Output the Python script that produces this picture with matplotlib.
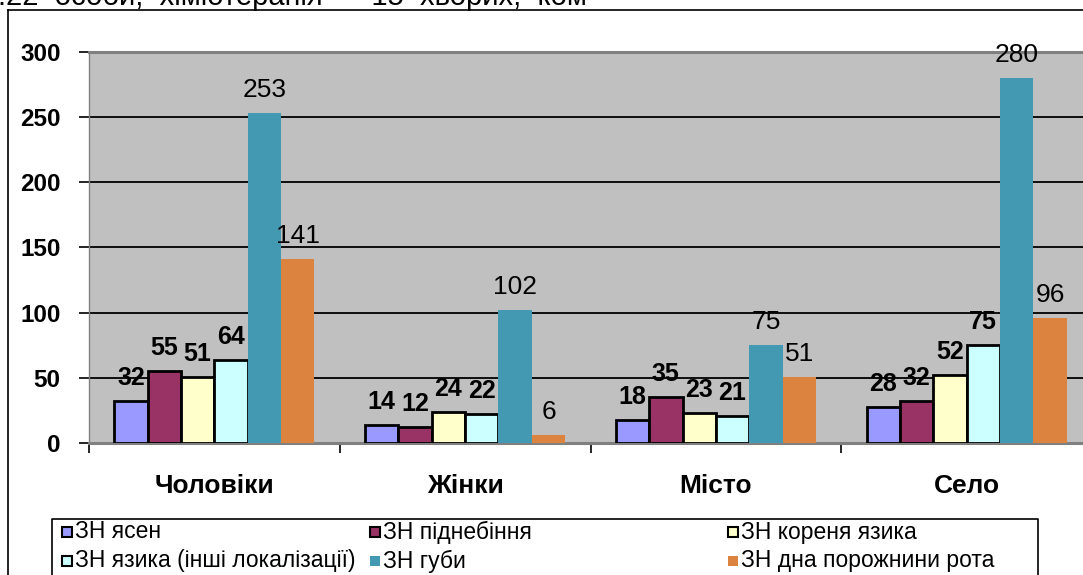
import matplotlib.pyplot as plt
import numpy as np
from matplotlib.lines import Line2D
from matplotlib.patches import Rectangle

plt.rcParams['font.family'] = ['Liberation Sans', 'DejaVu Sans']

# data
categories = ['Чоловіки', 'Жінки', 'Місто', 'Село']
series_names = ['ЗН ясен', 'ЗН піднебіння', 'ЗН кореня язика',
                'ЗН язика (інші локалізації)', 'ЗН губи', 'ЗН дна порожнини рота']
gums = [32, 14, 18, 28]
palate = [55, 12, 35, 32]
tongue_root = [51, 24, 23, 52]
tongue_other = [64, 22, 21, 75]
lip = [253, 102, 75, 280]
mouth_floor = [141, 6, 51, 96]
series_values = [gums, palate, tongue_root, tongue_other, lip, mouth_floor]
y_ticks = [0, 50, 100, 150, 200, 250, 300]

colors = ['#9999FF', '#993366', '#FFFFCC', '#CCFFFF', '#4299B1', '#DC843F']
edged = [True, True, True, True, False, False]
bold_labels = [True, True, True, True, False, False]

W, H = 1083, 575
fig = plt.figure(figsize=(W / 100, H / 100), dpi=100)

# plot area
ax = fig.add_axes([89 / W, 1 - 443 / H, (1092 - 89) / W, 391 / H])
ax.set_facecolor('#C0C0C0')

x = np.arange(len(categories))
bw = 0.133
for i, vals in enumerate(series_values):
    pos = x + (i - 2.5) * bw
    ax.bar(pos, vals, width=bw, color=colors[i],
           edgecolor='black' if edged[i] else colors[i],
           linewidth=2.0 if edged[i] else 0, zorder=3)
    for px, v in zip(pos, vals):
        ax.annotate(str(v), (px, v), xytext=(0, 11.5), textcoords='offset points',
                    ha='center', va='baseline',
                    fontsize=18 if bold_labels[i] else 19,
                    fontweight='bold' if bold_labels[i] else 'normal', zorder=4)

ax.set_xlim(-0.5, 3.5)
ax.set_ylim(0, 300)
ax.set_yticks(y_ticks)
ax.set_yticklabels([str(t) for t in y_ticks], fontsize=17.5, fontweight='bold')
ax.yaxis.grid(True, color='black', linewidth=1.3)
ax.set_axisbelow(True)

ax.set_xticks(x)
ax.set_xticklabels(categories, fontsize=19, fontweight='bold')
ax.set_xticks([-0.5, 0.5, 1.5, 2.5], minor=True)
ax.tick_params(axis='x', which='major', length=0, pad=22)
ax.tick_params(axis='x', which='minor', length=7, width=1.2, color='black')
ax.tick_params(axis='y', length=7, width=1.2, color='black', pad=13.5)

for side in ['top', 'bottom']:
    ax.spines[side].set_color('#808080')
    ax.spines[side].set_linewidth(2.2)
ax.spines['left'].set_color('#808080')
ax.spines['left'].set_linewidth(1.0)
ax.spines['right'].set_visible(False)

# chart frame (cut off at right and bottom)
fig.add_artist(Line2D([8 / W, 8 / W], [1 - 10 / H, -0.1], color='black', lw=1.2))
fig.add_artist(Line2D([8 / W, 1.1], [1 - 10 / H, 1 - 10 / H], color='black', lw=1.2))

# document text above chart, clipped by the top edge
fig.text(-2 / W, 1 - 5 / H, '.22  особи,  хіміотерапія  –  15  хворих,  ком',
         fontsize=21, va='baseline', ha='left')

# legend box
fig.add_artist(Line2D([52 / W, 52 / W, 1038 / W, 1038 / W],
                      [-0.1, 1 - 519 / H, 1 - 519 / H, -0.1], color='black', lw=1.2))
col_x = [62, 370, 728]
row_y = [532, 561]
for i, name in enumerate(series_names):
    cx = col_x[i % 3]
    cy = row_y[i // 3]
    fig.add_artist(Rectangle((cx / W, 1 - (cy + 5) / H), 10 / W, 10 / H,
                             facecolor=colors[i],
                             edgecolor='black' if edged[i] else colors[i],
                             linewidth=1.5 if edged[i] else 0))
    fig.text((cx + 13) / W, 1 - cy / H, name, fontsize=16.5, va='center', ha='left')

fig.savefig('out.png', dpi=100)
